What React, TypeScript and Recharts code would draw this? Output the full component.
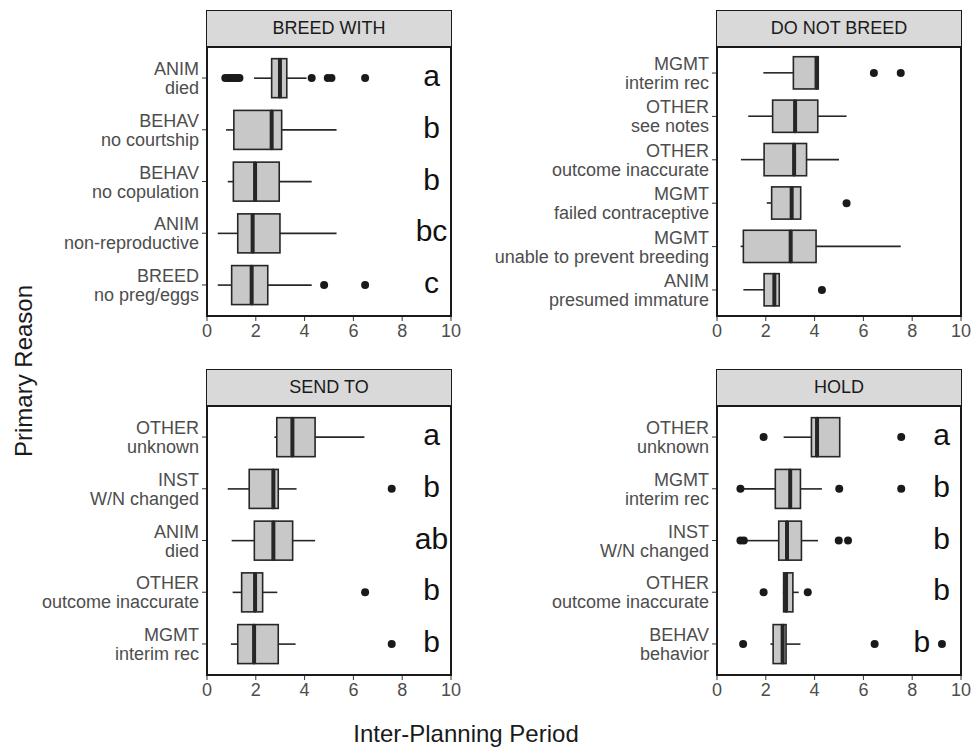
import { ComposedChart, Bar, Scatter, XAxis, YAxis } from 'recharts'

const FONT = '"Liberation Sans", Arial, Helvetica, sans-serif'
const X_TICKS = [0, 2, 4, 6, 8, 10]

// five-number summaries: [low whisker, q1, median, q3, high whisker]

// BREED WITH
const breedWithReasons = [['ANIM', 'died'], ['BEHAV', 'no courtship'], ['BEHAV', 'no copulation'], ['ANIM', 'non-reproductive'], ['BREED', 'no preg/eggs']]
const breedWithBoxes = [
  [1.93, 2.65, 2.99, 3.27, 4.08],
  [0.78, 1.1, 2.65, 3.06, 5.31],
  [0.85, 1.08, 1.97, 2.96, 4.29],
  [0.44, 1.26, 1.87, 2.99, 5.31],
  [0.44, 1.01, 1.83, 2.49, 4.29],
]
const breedWithOutliers = [[0.75, 0.85, 0.95, 1.05, 1.15, 1.25, 1.33, 4.29, 4.95, 5.1, 6.48], [], [], [], [4.8, 6.48]]
const breedWithLetters = ['a', 'b', 'b', 'bc', 'c']

// DO NOT BREED
const doNotBreedReasons = [['MGMT', 'interim rec'], ['OTHER', 'see notes'], ['OTHER', 'outcome inaccurate'], ['MGMT', 'failed contraceptive'], ['MGMT', 'unable to prevent breeding'], ['ANIM', 'presumed immature']]
const doNotBreedBoxes = [
  [1.9, 3.13, 4.08, 4.15, 4.15],
  [1.28, 2.28, 3.2, 4.13, 5.31],
  [0.98, 1.93, 3.16, 3.67, 5.0],
  [2.04, 2.24, 3.06, 3.43, 3.43],
  [0.97, 1.08, 3.02, 4.06, 7.53],
  [1.08, 1.93, 2.35, 2.55, 2.55],
]
const doNotBreedOutliers = [[6.43, 7.53], [], [], [5.31], [], [4.3]]
const doNotBreedLetters: string[] = []

// SEND TO
const sendToReasons = [['OTHER', 'unknown'], ['INST', 'W/N changed'], ['ANIM', 'died'], ['OTHER', 'outcome inaccurate'], ['MGMT', 'interim rec']]
const sendToBoxes = [
  [2.76, 2.86, 3.5, 4.43, 6.45],
  [0.85, 1.73, 2.72, 2.92, 3.67],
  [1.01, 1.94, 2.72, 3.51, 4.43],
  [1.05, 1.42, 1.97, 2.28, 2.88],
  [0.98, 1.26, 1.93, 2.92, 3.63],
]
const sendToOutliers = [[], [7.57], [], [6.48], [7.57]]
const sendToLetters = ['a', 'b', 'ab', 'b', 'b']

// HOLD
const holdReasons = [['OTHER', 'unknown'], ['MGMT', 'interim rec'], ['INST', 'W/N changed'], ['OTHER', 'outcome inaccurate'], ['BEHAV', 'behavior']]
const holdBoxes = [
  [2.73, 3.87, 4.1, 5.03, 5.03],
  [0.96, 2.39, 3.0, 3.42, 4.3],
  [1.23, 2.53, 2.87, 3.46, 4.14],
  [2.7, 2.73, 2.83, 3.11, 3.35],
  [2.19, 2.3, 2.69, 2.83, 3.42],
]
const holdOutliers = [[1.91, 7.55], [0.96, 5.01, 7.55], [0.96, 1.1, 4.99, 5.37], [1.91, 3.72], [1.07, 6.46, 9.22]]
const holdLetters = ['a', 'b', 'b', 'b', 'b']

const PLOT_W = 244
const PLOT_H = 269
const BOX_FILL = '#c8c8c8'
const INK = '#262626'

type Row = Record<string, number | string | null>

function buildRows(reasons: string[][], boxes: number[][], outliers: number[][], letters: string[]): Row[] {
  return reasons.map(([group, detail], i) => {
    const [lo, q1, med, q3, hi] = boxes[i]
    const outs = outliers[i]
    const letter = letters[i] ?? null
    const row: Row = {
      reason: `${group}\n${detail}`,
      s0: lo,
      s1: q1 - lo,
      s2: med - q1,
      s3: q3 - med,
      s4: hi - q3,
      letter,
      // move the letter left when an outlier sits where it would go
      lx: letter ? (outs.some((v) => v > 9) ? 8.4 : 9.2) : null,
    }
    outs.forEach((v, k) => {
      row[`o${k}`] = v
    })
    return row
  })
}

const ReasonTick = (props: any) => {
  const { x, y, payload } = props
  const [group, detail] = String(payload.value).split('\n')
  return (
    <text x={x} y={y} textAnchor="end" fill="#4d4d4d" fontSize={18} fontFamily={FONT}>
      <tspan x={x} dy={-3}>{group}</tspan>
      <tspan x={x} dy={19}>{detail}</tspan>
    </text>
  )
}

const Hidden = () => <g />

const Whisker = (props: any) => {
  const { x, y, width, height } = props
  const cy = y + height / 2
  return <line x1={x} x2={x + width} y1={cy} y2={cy} stroke={INK} strokeWidth={1.6} />
}

const BoxLower = (props: any) => {
  const { x, y, width, height } = props
  const h = height * 0.75
  return <rect x={x} y={y + (height - h) / 2} width={Math.max(width, 0)} height={h} fill={BOX_FILL} stroke={INK} strokeWidth={1.6} />
}

const BoxUpper = (props: any) => {
  const { x, y, width, height } = props
  const h = height * 0.75
  const top = y + (height - h) / 2
  return (
    <g>
      <rect x={x} y={top} width={Math.max(width, 0)} height={h} fill={BOX_FILL} stroke={INK} strokeWidth={1.6} />
      <line x1={x} x2={x} y1={top} y2={top + h} stroke={INK} strokeWidth={4} />
    </g>
  )
}

const OutlierDot = (props: any) => {
  const { cx, cy } = props
  if (cx == null || cy == null || Number.isNaN(cx) || Number.isNaN(cy)) return <g />
  return <circle cx={cx} cy={cy} r={4} fill="#1a1a1a" />
}

const LetterMark = (props: any) => {
  const { cx, cy, payload } = props
  if (cx == null || Number.isNaN(cx) || !payload?.letter) return <g />
  return (
    <text x={cx} y={cy + 8} textAnchor="middle" fontSize={30} fontFamily={FONT} fill="#111">
      {payload.letter}
    </text>
  )
}

interface PanelProps {
  title: string
  rows: Row[]
  plotLeft: number
  plotTop: number
  axisWidth: number
}

function Panel({ title, rows, plotLeft, plotTop, axisWidth }: PanelProps) {
  const n = rows.length
  // ggplot-style discrete expansion (0.6 of a step on each end)
  const pad = (PLOT_H * 0.1) / (n + 0.2)
  const maxOut = Math.max(...rows.map((r) => Object.keys(r).filter((k) => k.startsWith('o')).length))
  const outKeys = Array.from({ length: maxOut }, (_, k) => `o${k}`)
  const hasLetters = rows.some((r) => r.letter)

  return (
    <>
      <div
        style={{
          position: 'absolute',
          left: plotLeft - 1,
          top: plotTop - 37,
          width: PLOT_W + 2,
          height: 38,
          boxSizing: 'border-box',
          background: '#d9d9d9',
          border: '1.5px solid #1a1a1a',
          textAlign: 'center',
          lineHeight: '35px',
          fontSize: 18,
          color: '#1a1a1a',
        }}
      >
        {title}
      </div>
      <div style={{ position: 'absolute', left: plotLeft - axisWidth, top: plotTop }}>
        <ComposedChart
          layout="vertical"
          width={axisWidth + PLOT_W + 10}
          height={PLOT_H + 40}
          data={rows}
          margin={{ top: 0, right: 10, bottom: 0, left: 0 }}
          barCategoryGap={0}
          barGap={0}
        >
          <XAxis
            type="number"
            domain={[0, 10]}
            ticks={X_TICKS}
            allowDataOverflow
            interval={0}
            height={40}
            axisLine={false}
            tickSize={5}
            tickMargin={3}
            tickLine={{ stroke: '#333' }}
            tick={{ fill: '#4d4d4d', fontSize: 18, fontFamily: FONT }}
          />
          <YAxis
            type="category"
            dataKey="reason"
            width={axisWidth}
            interval={0}
            padding={{ top: pad, bottom: pad }}
            axisLine={false}
            tickSize={5}
            tickMargin={3}
            tickLine={{ stroke: '#333' }}
            tick={(p: any) => <ReasonTick {...p} />}
          />
          <Bar dataKey="s0" stackId="box" shape={(p: any) => <Hidden {...p} />} isAnimationActive={false} />
          <Bar dataKey="s1" stackId="box" shape={(p: any) => <Whisker {...p} />} isAnimationActive={false} />
          <Bar dataKey="s2" stackId="box" shape={(p: any) => <BoxLower {...p} />} isAnimationActive={false} />
          <Bar dataKey="s3" stackId="box" shape={(p: any) => <BoxUpper {...p} />} isAnimationActive={false} />
          <Bar dataKey="s4" stackId="box" shape={(p: any) => <Whisker {...p} />} isAnimationActive={false} />
          {outKeys.map((k) => (
            <Scatter key={k} dataKey={k} shape={(p: any) => <OutlierDot {...p} />} isAnimationActive={false} />
          ))}
          {hasLetters && <Scatter dataKey="lx" shape={(p: any) => <LetterMark {...p} />} isAnimationActive={false} />}
        </ComposedChart>
      </div>
      <div
        style={{
          position: 'absolute',
          left: plotLeft - 1,
          top: plotTop - 1,
          width: PLOT_W + 2,
          height: PLOT_H + 2,
          boxSizing: 'border-box',
          border: '2px solid #1a1a1a',
          pointerEvents: 'none',
        }}
      />
    </>
  )
}

export default function App() {
  const breedWith = buildRows(breedWithReasons, breedWithBoxes, breedWithOutliers, breedWithLetters)
  const doNotBreed = buildRows(doNotBreedReasons, doNotBreedBoxes, doNotBreedOutliers, doNotBreedLetters)
  const sendTo = buildRows(sendToReasons, sendToBoxes, sendToOutliers, sendToLetters)
  const hold = buildRows(holdReasons, holdBoxes, holdOutliers, holdLetters)

  return (
    <div
      style={{
        position: 'absolute',
        left: 0,
        top: 0,
        width: 973,
        height: 748,
        background: '#fff',
        fontFamily: FONT,
        overflow: 'hidden',
      }}
    >
      <Panel title="BREED WITH" rows={breedWith} plotLeft={207} plotTop={47} axisWidth={190} />
      <Panel title="DO NOT BREED" rows={doNotBreed} plotLeft={717} plotTop={47} axisWidth={240} />
      <Panel title="SEND TO" rows={sendTo} plotLeft={207} plotTop={406} axisWidth={190} />
      <Panel title="HOLD" rows={hold} plotLeft={717} plotTop={406} axisWidth={240} />
      <svg width={973} height={748} style={{ position: 'absolute', left: 0, top: 0, pointerEvents: 'none' }}>
        <text x={32} y={371} transform="rotate(-90 32 371)" textAnchor="middle" fontSize={24} fontFamily={FONT} fill="#1a1a1a">
          Primary Reason
        </text>
        <text x={466} y={742} textAnchor="middle" fontSize={24} fontFamily={FONT} fill="#1a1a1a">
          Inter-Planning Period
        </text>
      </svg>
    </div>
  )
}
